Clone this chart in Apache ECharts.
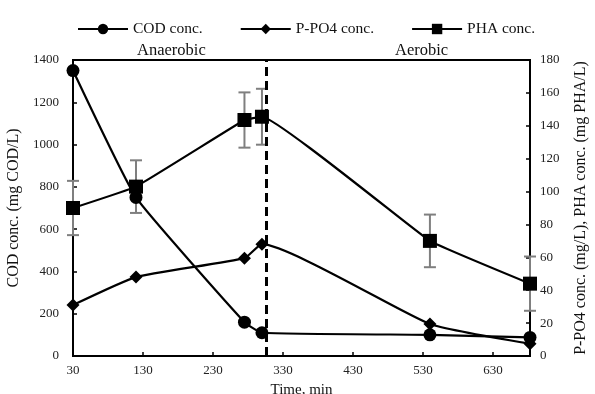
<!DOCTYPE html>
<html>
<head>
<meta charset="utf-8">
<script src="https://cdn.jsdelivr.net/npm/echarts@6/dist/echarts.min.js"></script>
<style>
  html, body { margin: 0; padding: 0; background: #fff; }
  #chart { width: 595px; height: 394px; }
</style>
</head>
<body>
<div id="chart"></div>
<script>
// sampling times, min
const times = [30, 120, 275, 300, 540, 683]
const codConc = [1350, 750, 160, 110, 100, 88]
const phosConc = [31, 48, 59.5, 68, 19.5, 7.5]
const phaConc = [90, 103, 143.5, 145.5, 70, 44]
const phaErr = [16.5, 16, 16.8, 17, 16, 16.5]
const timeTicks = [30, 130, 230, 330, 430, 530, 630]
const switchTime = 306

const font = 'Liberation Serif'
const black = '#000'

const pairs = (ys) => times.map((t, i) => [t, ys[i]])
const errData = times.map((t, i) => [t, phaConc[i] - phaErr[i], phaConc[i] + phaErr[i]])
const plain = (v) => String(v)

const chart = echarts.init(document.getElementById('chart'))

chart.setOption({
  animation: false,
  textStyle: { fontFamily: font },
  grid: {
    left: 73, right: 65, top: 60, bottom: 38,
    outerBoundsMode: 'none', containLabel: false,
    show: true, borderColor: black, borderWidth: 2
  },
  legend: {
    left: 72, top: 16,
    itemWidth: 50, itemHeight: 13, itemGap: 37,
    textStyle: { fontFamily: font, fontSize: 15.5, color: '#111' },
    data: ['COD conc.', 'P-PO4 conc.', 'PHA conc.']
  },
  graphic: [
    { type: 'text', left: 137, top: 42, style: { text: 'Anaerobic', fontFamily: font, fontSize: 16.5, fill: '#111' } },
    { type: 'text', left: 395, top: 42, style: { text: 'Aerobic', fontFamily: font, fontSize: 16.5, fill: '#111' } }
  ],
  xAxis: {
    type: 'value', min: 30, max: 683,
    name: 'Time, min', nameLocation: 'middle', nameGap: 27,
    nameTextStyle: { fontFamily: font, fontSize: 15, color: '#111' },
    axisLine: { lineStyle: { color: black, width: 2 } },
    axisTick: { inside: true, length: 4, customValues: timeTicks, lineStyle: { color: black, width: 1.5 } },
    axisLabel: { customValues: timeTicks, formatter: plain, fontFamily: font, fontSize: 13, color: '#222', margin: 8 },
    splitLine: { show: false }
  },
  yAxis: [
    {
      type: 'value', min: 0, max: 1400, interval: 200,
      name: 'COD conc. (mg COD/L)', nameLocation: 'middle', nameGap: 46,
      nameTextStyle: { fontFamily: font, fontSize: 16, color: '#111' },
      axisLine: { show: true, lineStyle: { color: black, width: 2 } },
      axisTick: { show: true, inside: true, length: 4, lineStyle: { color: black, width: 1.5 } },
      axisLabel: { formatter: plain, fontFamily: font, fontSize: 13, color: '#222', margin: 14 },
      splitLine: { show: false }
    },
    {
      type: 'value', min: 0, max: 180, interval: 20, position: 'right',
      name: 'P-PO4 conc. (mg/L), PHA conc. (mg PHA/L)', nameLocation: 'middle', nameGap: 43,
      nameTextStyle: { fontFamily: font, fontSize: 16, color: '#111' },
      axisLine: { show: true, lineStyle: { color: black, width: 2 } },
      axisTick: { show: true, inside: true, length: 4, lineStyle: { color: black, width: 1.5 } },
      axisLabel: { formatter: plain, fontFamily: font, fontSize: 13, color: '#222', margin: 10 },
      splitLine: { show: false }
    }
  ],
  series: [
    {
      name: 'PHA error',
      type: 'custom',
      yAxisIndex: 1,
      z: 1,
      data: errData,
      renderItem: (params, api) => {
        const x = api.value(0)
        const lo = api.coord([x, api.value(1)])
        const hi = api.coord([x, api.value(2)])
        const cap = 6
        const style = { stroke: '#7f7f7f', lineWidth: 2 }
        return {
          type: 'group',
          children: [
            { type: 'line', shape: { x1: lo[0], y1: lo[1], x2: hi[0], y2: hi[1] }, style },
            { type: 'line', shape: { x1: lo[0] - cap, y1: lo[1], x2: lo[0] + cap, y2: lo[1] }, style },
            { type: 'line', shape: { x1: hi[0] - cap, y1: hi[1], x2: hi[0] + cap, y2: hi[1] }, style }
          ]
        }
      }
    },
    {
      name: 'COD conc.',
      type: 'line', yAxisIndex: 0, z: 3,
      smooth: 0.12,
      data: pairs(codConc),
      symbol: 'circle', symbolSize: 13,
      itemStyle: { color: black },
      lineStyle: { color: black, width: 2.2 },
      markLine: {
        silent: true, symbol: 'none', label: { show: false },
        lineStyle: { color: black, type: [9, 5], width: 3 },
        data: [{ xAxis: switchTime }]
      }
    },
    {
      name: 'P-PO4 conc.',
      type: 'line', yAxisIndex: 1, z: 3,
      smooth: 0.15,
      data: pairs(phosConc),
      symbol: 'diamond', symbolSize: 13,
      itemStyle: { color: black },
      lineStyle: { color: black, width: 2.2 }
    },
    {
      name: 'PHA conc.',
      type: 'line', yAxisIndex: 1, z: 3,
      smooth: 0.08,
      data: pairs(phaConc),
      symbol: 'rect', symbolSize: 14,
      itemStyle: { color: black },
      lineStyle: { color: black, width: 2.2 }
    }
  ]
})
</script>
</body>
</html>
